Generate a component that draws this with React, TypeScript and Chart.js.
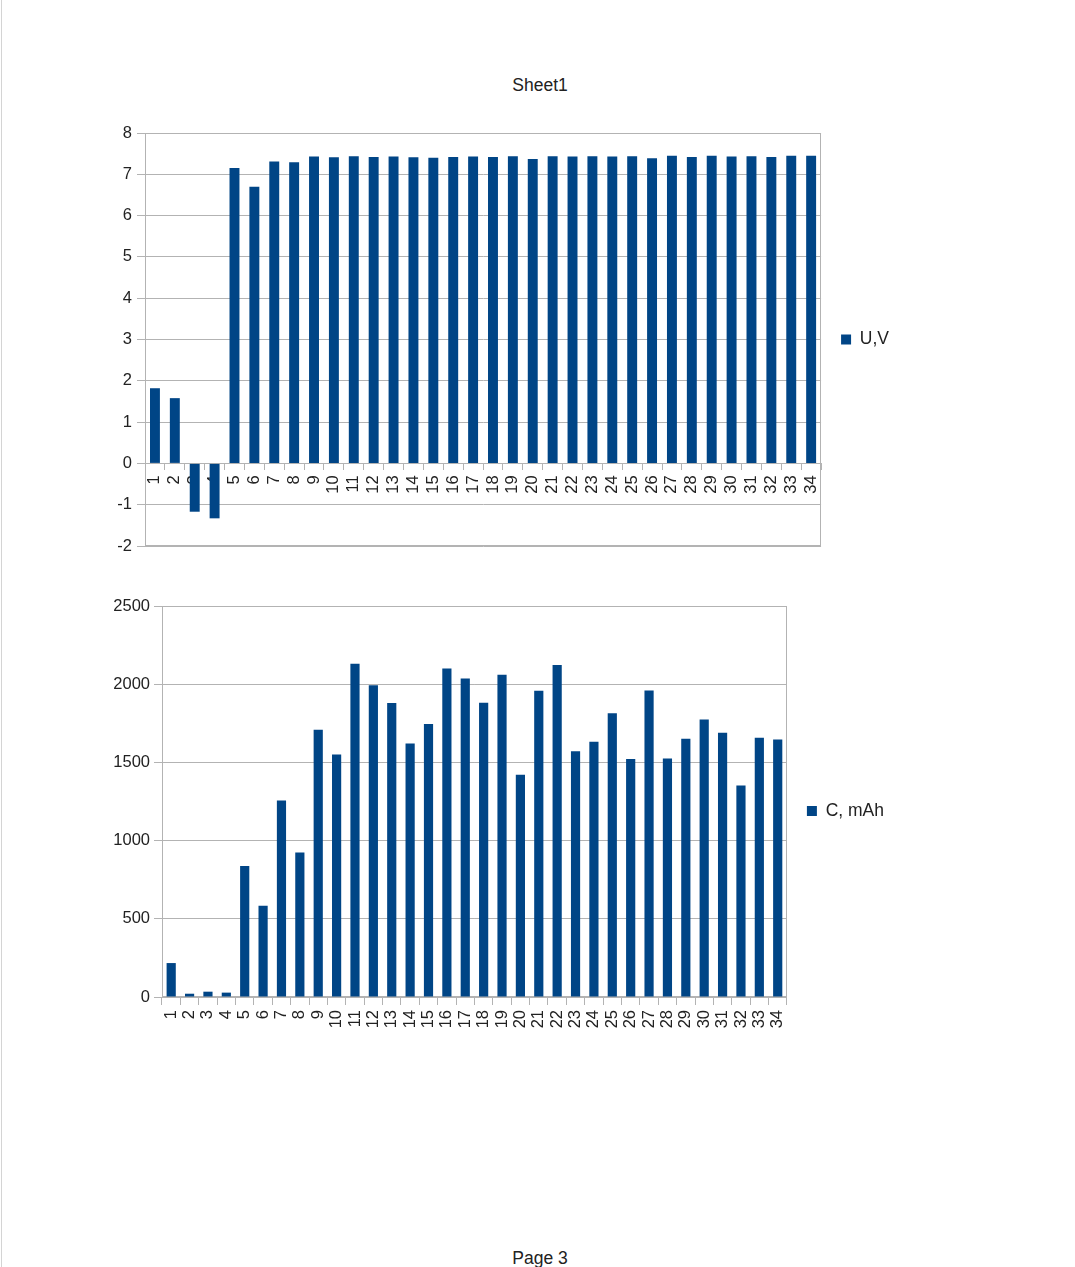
import React, { useEffect, useRef } from 'react';
import { Chart, registerables } from 'chart.js';

Chart.register(...registerables);

const categories = [
  '1', '2', '3', '4', '5', '6', '7', '8', '9', '10', '11', '12', '13', '14', '15', '16', '17',
  '18', '19', '20', '21', '22', '23', '24', '25', '26', '27', '28', '29', '30', '31', '32', '33', '34',
];

const voltageLabel = 'U,V';
const voltageValues = [
  1.82, 1.58, -1.17, -1.33, 7.15, 6.7, 7.31, 7.29, 7.43, 7.41, 7.44, 7.42, 7.43, 7.41, 7.4, 7.42, 7.43,
  7.42, 7.44, 7.37, 7.44, 7.43, 7.44, 7.43, 7.44, 7.39, 7.45, 7.42, 7.45, 7.43, 7.44, 7.42, 7.45, 7.45,
];
const voltageMin = -2;
const voltageMax = 8;
const voltageStep = 1;

const capacityLabel = 'C, mAh';
const capacityValues = [
  217, 21, 34, 28, 837, 584, 1257, 924, 1708, 1551, 2130, 1994, 1879, 1621, 1745, 2100, 2037,
  1881, 2060, 1421, 1958, 2122, 1572, 1632, 1815, 1521, 1960, 1525, 1651, 1775, 1690, 1353, 1658, 1647,
];
const capacityMin = 0;
const capacityMax = 2500;
const capacityStep = 500;

const pageTitle = 'Sheet1';
const pageFooter = 'Page 3';

const BAR = '#004586';
const GRID = '#b3b3b3';
const TEXT = '#222222';
const FONT = "'Liberation Sans', Arial, sans-serif";
const TICK_FONT = { family: FONT, size: 16.5 };
const LEGEND_FONT = { family: FONT, size: 17.5 };

const plotBorder = {
  id: 'plotBorder',
  beforeDatasetsDraw(chart: any) {
    const { ctx, chartArea: a } = chart;
    ctx.save();
    ctx.strokeStyle = GRID;
    ctx.lineWidth = 1;
    const l = Math.round(a.left) + 0.5;
    const t = Math.round(a.top) + 0.5;
    const r = Math.round(a.right) - 0.5;
    const b = Math.round(a.bottom) - 0.5;
    ctx.strokeRect(l, t, r - l, b - t);
    ctx.restore();
  },
};

const plainNumber = (v: any) => String(v);

function VoltageChart() {
  const ref = useRef<HTMLCanvasElement | null>(null);
  useEffect(() => {
    if (!ref.current) return;
    const chart = new Chart(ref.current, {
      type: 'bar',
      data: {
        labels: categories,
        datasets: [
          {
            label: voltageLabel,
            data: voltageValues,
            backgroundColor: BAR,
            borderWidth: 0,
            barPercentage: 0.5,
            categoryPercentage: 1.0,
          },
        ],
      },
      options: {
        responsive: false,
        animation: false,
        layout: { padding: { top: 18, bottom: 19, left: 0, right: 0 } },
        plugins: {
          legend: {
            position: 'right',
            labels: { boxWidth: 10, boxHeight: 10, padding: 20, color: TEXT, font: LEGEND_FONT },
          },
          tooltip: { enabled: false },
        },
        scales: {
          x: {
            position: { y: 0 } as any,
            z: 1,
            grid: { offset: true, drawOnChartArea: false, drawTicks: true, tickLength: 6, color: GRID },
            border: { display: true, color: GRID },
            ticks: { maxRotation: 90, minRotation: 90, autoSkip: false, padding: 6, color: TEXT, font: TICK_FONT },
          },
          y: {
            min: voltageMin,
            max: voltageMax,
            afterFit: (s: any) => {
              s.width = 55;
            },
            ticks: { stepSize: voltageStep, padding: 5, color: TEXT, font: TICK_FONT, callback: plainNumber },
            grid: { color: GRID, tickLength: 8 },
            border: { display: true, color: GRID },
          },
        },
      } as any,
      plugins: [plotBorder],
    });
    return () => chart.destroy();
  }, []);
  return (
    <canvas
      ref={ref}
      width={809}
      height={450}
      style={{ position: 'absolute', left: 90, top: 115, width: 809, height: 450 }}
    />
  );
}

function CapacityChart() {
  const ref = useRef<HTMLCanvasElement | null>(null);
  useEffect(() => {
    if (!ref.current) return;
    const chart = new Chart(ref.current, {
      type: 'bar',
      data: {
        labels: categories,
        datasets: [
          {
            label: capacityLabel,
            data: capacityValues,
            backgroundColor: BAR,
            borderWidth: 0,
            barPercentage: 0.5,
            categoryPercentage: 1.0,
          },
        ],
      },
      options: {
        responsive: false,
        animation: false,
        layout: { padding: { top: 16, bottom: 0, left: 0, right: 0 } },
        plugins: {
          legend: {
            position: 'right',
            fullSize: false,
            title: { display: true, text: '', padding: 5, font: { family: FONT, size: 9, lineHeight: 1 } },
            labels: { boxWidth: 10, boxHeight: 10, padding: 20, color: TEXT, font: LEGEND_FONT },
          },
          tooltip: { enabled: false },
        },
        scales: {
          x: {
            afterFit: (s: any) => {
              s.height = 40;
            },
            grid: { offset: true, drawOnChartArea: false, drawTicks: true, tickLength: 8, color: GRID },
            border: { display: true, color: GRID },
            ticks: { maxRotation: 90, minRotation: 90, autoSkip: false, padding: 5, color: TEXT, font: TICK_FONT },
          },
          y: {
            min: capacityMin,
            max: capacityMax,
            afterFit: (s: any) => {
              s.width = 62;
            },
            ticks: { stepSize: capacityStep, padding: 4, color: TEXT, font: TICK_FONT, callback: plainNumber },
            grid: { color: GRID, tickLength: 8 },
            border: { display: true, color: GRID },
          },
        },
      } as any,
      plugins: [plotBorder],
    });
    return () => chart.destroy();
  }, []);
  return (
    <canvas
      ref={ref}
      width={794}
      height={447}
      style={{ position: 'absolute', left: 100, top: 590, width: 794, height: 447 }}
    />
  );
}

export default function App() {
  return (
    <div
      style={{
        position: 'absolute',
        left: 0,
        top: 0,
        width: 1075,
        height: 1267,
        background: '#ffffff',
        overflow: 'hidden',
        fontFamily: FONT,
      }}
    >
      <div
        style={{
          position: 'absolute',
          left: 1,
          top: 0,
          width: 1,
          height: 1267,
          background: '#d4d4d4',
        }}
      />
      <div
        style={{
          position: 'absolute',
          left: 440,
          width: 200,
          top: 74,
          textAlign: 'center',
          fontSize: 17.5,
          lineHeight: '22px',
          color: TEXT,
        }}
      >
        {pageTitle}
      </div>
      <VoltageChart />
      <CapacityChart />
      <div
        style={{
          position: 'absolute',
          left: 440,
          width: 200,
          top: 1247,
          textAlign: 'center',
          fontSize: 17.5,
          lineHeight: '22px',
          color: TEXT,
        }}
      >
        {pageFooter}
      </div>
    </div>
  );
}
